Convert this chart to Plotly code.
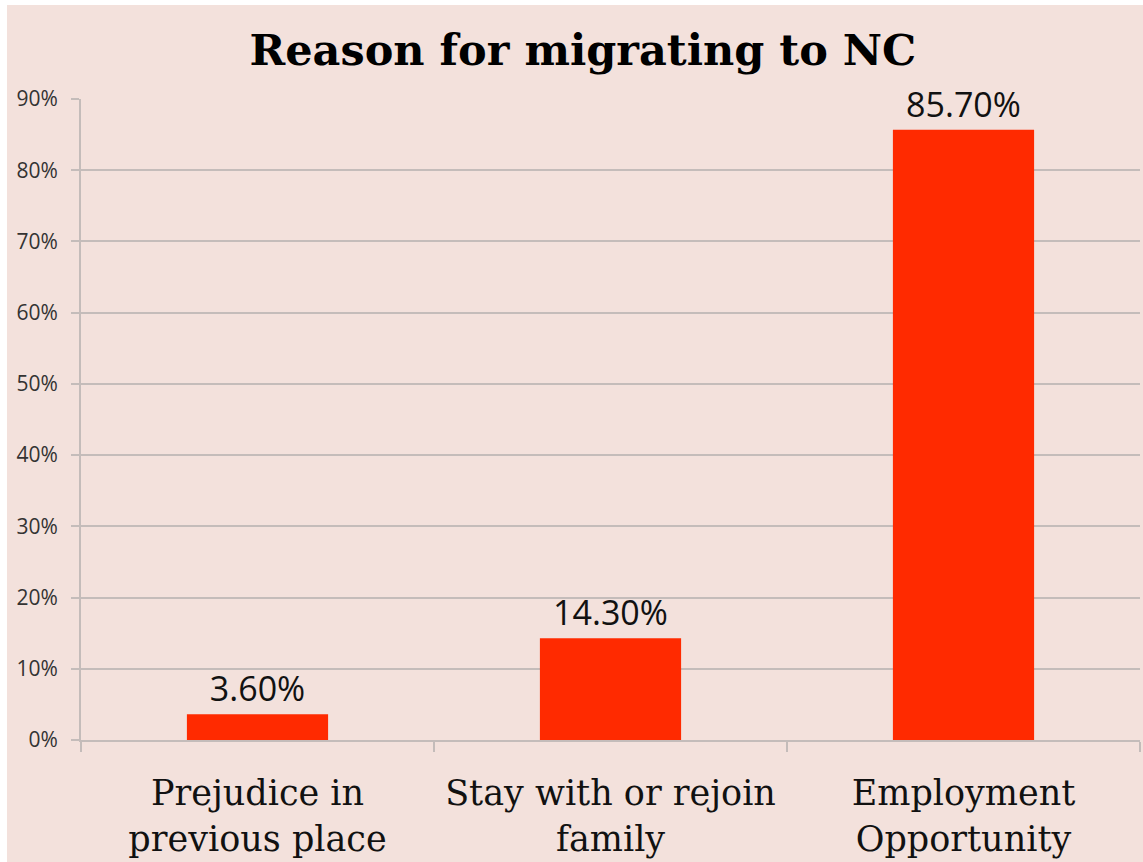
import plotly.graph_objects as go

categories = ["Prejudice in<br>previous place", "Stay with or rejoin<br>family", "Employment<br>Opportunity"]
values = [0.036, 0.143, 0.857]
labels = ["3.60%", "14.30%", "85.70%"]
tick_vals = [0, 0.1, 0.2, 0.3, 0.4, 0.5, 0.6, 0.7, 0.8, 0.9]

PINK = "#F3E1DC"
GRID = "#C4BCBA"

fig = go.Figure(go.Bar(
    x=categories, y=values, text=labels, textposition="outside",
    textfont=dict(family="Open Sans, Noto Sans, sans-serif", size=34, color="#111111"),
    marker=dict(color="#FF2A00", line=dict(width=0)),
    width=0.4, cliponaxis=False,
))

fig.update_layout(
    width=1143, height=862,
    margin=dict(l=81, r=3, t=99, b=122),
    paper_bgcolor="white", plot_bgcolor="rgba(0,0,0,0)",
    showlegend=False,
    title=dict(text="<b>Reason for migrating to NC</b>", x=0.51, xanchor="center",
               y=0.942, yanchor="middle",
               font=dict(family="DejaVu Serif, serif", size=43, color="#000000")),
    shapes=[dict(type="rect", xref="paper", yref="paper", layer="below",
                 x0=-0.0699, x1=1.01, y0=-0.2, y1=1.1466,
                 fillcolor=PINK, line=dict(width=0))],
    xaxis=dict(
        showgrid=False, tickson="boundaries", ticks="outside", ticklen=10,
        tickcolor=GRID, tickwidth=2, showline=True, linecolor=GRID, linewidth=2,
        tickfont=dict(family="DejaVu Serif, serif", size=35, color="#111111"),
        zeroline=False, ticklabelstandoff=21,
    ),
    yaxis=dict(
        range=[0, 0.9], tickvals=tick_vals, tickformat=".0%",
        showgrid=True, gridcolor=GRID, gridwidth=2,
        ticks="outside", ticklen=8, tickcolor=GRID, tickwidth=2,
        showline=True, linecolor=GRID, linewidth=2, zeroline=False,
        tickfont=dict(family="Open Sans, Noto Sans, sans-serif", size=21, color="#333333"),
        ticklabelstandoff=9,
    ),
)

fig.write_html("out.html")
